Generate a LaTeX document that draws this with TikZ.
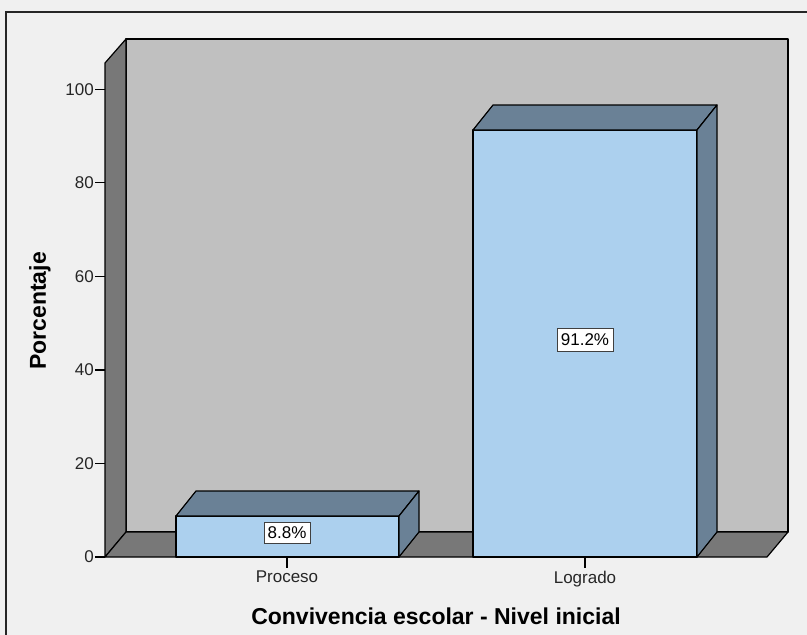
\documentclass[tikz,border=0pt]{standalone}
\usepackage{fontspec}
\setmainfont{Liberation Sans}
\usepackage{xcolor}
\usetikzlibrary{calc}

\definecolor{panel}{HTML}{F0F0F0}
\definecolor{wall}{HTML}{C0C0C0}
\definecolor{floorgrey}{HTML}{787878}
\definecolor{barfront}{HTML}{ACD0EE}
\definecolor{barshade}{HTML}{6A8196}

\begin{document}
\begin{tikzpicture}[x=1pt,y=-1pt,
    edge/.style={draw=black,line width=1.2pt,line join=round},
    ticklabel/.style={font=\fontsize{17}{19}\selectfont,text=black!85},
    valuebox/.style={draw=black!75,fill=white,line width=1pt,inner sep=2pt,font=\fontsize{17}{19}\selectfont},
    axistitle/.style={font=\bfseries\fontsize{23}{26}\selectfont}]
            % canvas
            \useasboundingbox (0,0) rectangle (807,635);
            \fill[panel] (0,0) rectangle (807,635);
            \draw[line width=1.5pt,black!85] (6,645) -- (6,12) -- (815,12);
            % coordinates
            \coordinate (frontleft) at (105,557);
            \coordinate (frontright) at (767,557);
            \coordinate (backleft) at (126,532);
            \coordinate (backright) at (788,532);
            \coordinate (walltop) at (126,39);
            \coordinate (walltopright) at (788,39);
            \coordinate (sidetop) at (105,63);
            % back wall
            \filldraw[fill=wall,edge] (backleft) -- (walltop) -- (walltopright) -- (backright) -- cycle;
            % left wall
            \filldraw[fill=floorgrey,edge] (frontleft) -- (sidetop) -- (walltop) -- (backleft) -- cycle;
            % floor
            \filldraw[fill=floorgrey,edge] (frontleft) -- (backleft) -- (backright) -- (frontright) -- cycle;
            % y ticks
            \foreach \v in {0,20,40,60,80,100} {
                \draw[line width=1.2pt] (95,{557-4.677*\v}) -- (frontleft |- 0,{557-4.677*\v});
                \node[ticklabel,anchor=east,inner sep=1pt] (ytick\v) at (95,{557-4.677*\v}) {\v};
            }
            % bar Proceso
            \filldraw[fill=barfront,edge] (176,557) rectangle (399,516);
            \filldraw[fill=barshade,edge] (176,516) -- (196,491) -- (419,491) -- (399,516) -- cycle;
            \filldraw[fill=barshade,edge] (399,516) -- (419,491) -- (419,532) -- (399,557) -- cycle;
            % bar Logrado
            \filldraw[fill=barfront,edge] (473,557) rectangle (697,130);
            \filldraw[fill=barshade,edge] (473,130) -- (493,105) -- (717,105) -- (697,130) -- cycle;
            \filldraw[fill=barshade,edge] (697,130) -- (717,105) -- (717,532) -- (697,557) -- cycle;
            % value labels
            \node[valuebox,minimum width=46,minimum height=21] (valproceso) at (287,533) {8.8\%};
            \node[valuebox,minimum width=56,minimum height=23] (vallogrado) at (585,340) {91.2\%};
            % x ticks and labels
            \draw[line width=1.2pt] (287,557) -- (287,568);
            \draw[line width=1.2pt] (585,557) -- (585,568);
            \node[ticklabel,anchor=north,inner sep=1pt] (proceso) at (287,570) {Proceso};
            \node[ticklabel,anchor=north,inner sep=1pt] (logrado) at (585,570) {Logrado};
            % axis titles
            \node[axistitle] (xtitle) at (436,616) {Convivencia escolar - Nivel inicial};
            \node[axistitle,rotate=90] (ytitle) at (40,311) {Porcentaje};
        \end{tikzpicture}
\end{document}
